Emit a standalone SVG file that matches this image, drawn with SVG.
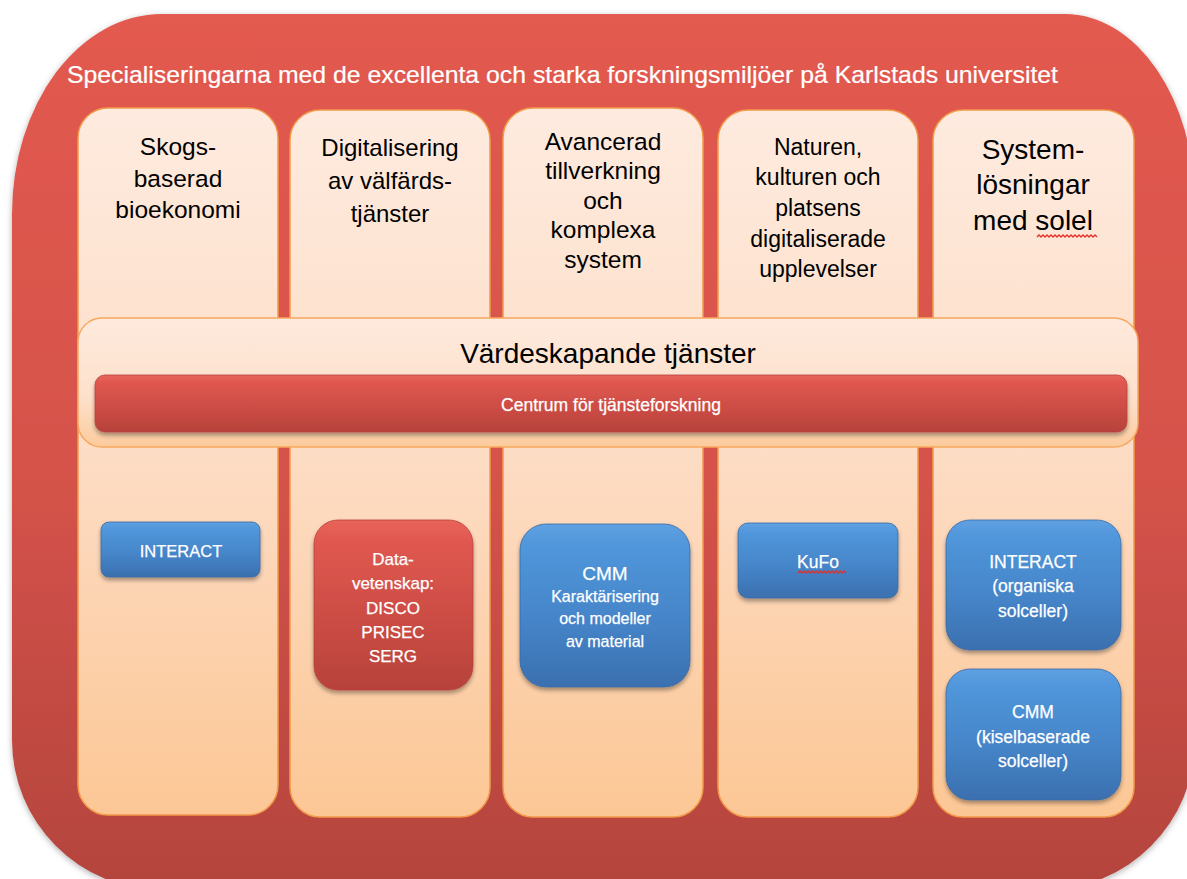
<svg xmlns="http://www.w3.org/2000/svg" width="1187" height="879" viewBox="0 0 1187 879">
<defs>
<linearGradient id="gOuter" x1="0" y1="0" x2="0" y2="1">
<stop offset="0" stop-color="#E35A4F"/>
<stop offset="0.55" stop-color="#D4524A"/>
<stop offset="1" stop-color="#B3443D"/>
</linearGradient>
<linearGradient id="gCol" x1="0" y1="0" x2="0" y2="1">
<stop offset="0" stop-color="#FEEBDF"/>
<stop offset="0.5" stop-color="#FDDCC4"/>
<stop offset="1" stop-color="#FCC795"/>
</linearGradient>
<linearGradient id="gBand" x1="0" y1="0" x2="0" y2="1">
<stop offset="0" stop-color="#FEEADD"/>
<stop offset="0.6" stop-color="#FDE1CC"/>
<stop offset="1" stop-color="#FCCB9D"/>
</linearGradient>
<linearGradient id="gRed" x1="0" y1="0" x2="0" y2="1">
<stop offset="0" stop-color="#E8645A"/>
<stop offset="0.12" stop-color="#E05850"/>
<stop offset="0.6" stop-color="#CB4C44"/>
<stop offset="1" stop-color="#B6423B"/>
</linearGradient>
<linearGradient id="gBlue" x1="0" y1="0" x2="0" y2="1">
<stop offset="0" stop-color="#5FA1E2"/>
<stop offset="0.12" stop-color="#5197DB"/>
<stop offset="0.6" stop-color="#4584C8"/>
<stop offset="1" stop-color="#3B70AF"/>
</linearGradient>
<filter id="sh" x="-10%" y="-10%" width="120%" height="140%">
<feDropShadow dx="0" dy="3" stdDeviation="2" flood-color="#000" flood-opacity="0.35"/>
</filter>
<filter id="shBig" x="-5%" y="-5%" width="110%" height="110%">
<feDropShadow dx="0" dy="2" stdDeviation="3" flood-color="#000" flood-opacity="0.3"/>
</filter>
</defs>
<style>
.col{fill:url(#gCol);stroke:#F29A48;stroke-width:1.5}
.band{fill:url(#gBand);stroke:#F6A85E;stroke-width:1.5}
.red{fill:url(#gRed);stroke:#B9433C;stroke-width:0.8}
.blue{fill:url(#gBlue);stroke:#3A69A3;stroke-width:0.8}
text{font-family:"Liberation Sans",Arial,sans-serif}
.h{fill:#000;text-anchor:middle}
.w{fill:#fff;text-anchor:middle;stroke:#fff;stroke-width:0.25}
.sq{fill:none;stroke:#E0302A;stroke-width:1.3}
</style>

<g id="outer">
<path d="M 162 14 H 1065 A 130 190 0 0 1 1195 204 V 740 A 150 150 0 0 1 1045 890 H 162 A 150 150 0 0 1 12 740 V 214 A 150 200 0 0 1 162 14 Z" fill="url(#gOuter)" filter="url(#shBig)"/>
<text x="67" y="83" font-size="24" fill="#fff" stroke="#fff" stroke-width="0.2" textLength="991" lengthAdjust="spacingAndGlyphs">Specialiseringarna med de excellenta och starka forskningsmiljöer på Karlstads universitet</text>
</g>

<g id="col1">
<rect class="col" x="78" y="108" width="200" height="707" rx="30"/>
<text class="h" font-size="24.5"><tspan x="178" y="155">Skogs-</tspan><tspan x="178" y="187">baserad</tspan><tspan x="178" y="218">bioekonomi</tspan></text>
</g>
<g id="col2">
<rect class="col" x="290" y="110" width="200" height="707" rx="30"/>
<text class="h" font-size="24"><tspan x="390" y="156">Digitalisering</tspan><tspan x="390" y="189">av välfärds-</tspan><tspan x="390" y="222">tjänster</tspan></text>
</g>
<g id="col3">
<rect class="col" x="503" y="108" width="200" height="709" rx="30"/>
<text class="h" font-size="24.5"><tspan x="603" y="150">Avancerad</tspan><tspan x="603" y="179">tillverkning</tspan><tspan x="603" y="209">och</tspan><tspan x="603" y="238">komplexa</tspan><tspan x="603" y="268">system</tspan></text>
</g>
<g id="col4">
<rect class="col" x="718" y="110" width="200" height="707" rx="30"/>
<text class="h" font-size="23"><tspan x="818" y="155">Naturen,</tspan><tspan x="818" y="185">kulturen och</tspan><tspan x="818" y="216">platsens</tspan><tspan x="818" y="247">digitaliserade</tspan><tspan x="818" y="277">upplevelser</tspan></text>
</g>
<g id="col5">
<rect class="col" x="933" y="110" width="201" height="707" rx="30"/>
<text class="h" font-size="28"><tspan x="1033" y="159">System-</tspan><tspan x="1033" y="194">lösningar</tspan><tspan x="1033" y="230">med solel</tspan></text>
<path class="sq" d="M1037 237 l2 -2 l2 2 l2 -2 l2 2 l2 -2 l2 2 l2 -2 l2 2 l2 -2 l2 2 l2 -2 l2 2 l2 -2 l2 2 l2 -2 l2 2 l2 -2 l2 2 l2 -2 l2 2 l2 -2 l2 2 l2 -2 l2 2 l2 -2 l2 2 l2 -2 l2 2 l2 -2 l2 2"/>
</g>

<g id="band">
<rect class="band" x="78" y="318" width="1060" height="129" rx="24"/>
<text class="h" x="608" y="363" font-size="28">Värdeskapande tjänster</text>
</g>
<g id="centrum">
<rect class="red" x="95" y="375" width="1032" height="57" rx="10" filter="url(#sh)"/>
<text class="w" x="611" y="411" font-size="17.5">Centrum för tjänsteforskning</text>
</g>

<g id="interact1">
<rect class="blue" x="101" y="522" width="159" height="55" rx="8" filter="url(#sh)"/>
<text class="w" x="181" y="557" font-size="16.5">INTERACT</text>
</g>
<g id="datavetenskap">
<rect class="red" x="314" y="520" width="159" height="170" rx="24" filter="url(#sh)"/>
<text class="w" font-size="17"><tspan x="393" y="565">Data-</tspan><tspan x="393" y="589">vetenskap:</tspan><tspan x="393" y="614">DISCO</tspan><tspan x="393" y="638">PRISEC</tspan><tspan x="393" y="662">SERG</tspan></text>
</g>
<g id="cmm1">
<rect class="blue" x="520" y="524" width="170" height="163" rx="26" filter="url(#sh)"/>
<text class="w" x="605" y="580" font-size="19">CMM</text>
<text class="w" font-size="16"><tspan x="605" y="602">Karaktärisering</tspan><tspan x="605" y="624">och modeller</tspan><tspan x="605" y="647">av material</tspan></text>
</g>
<g id="kufo">
<rect class="blue" x="738" y="523" width="160" height="75" rx="10" filter="url(#sh)"/>
<text class="w" x="818" y="568" font-size="17.5">KuFo</text>
<path class="sq" d="M798 573 l2 -2 l2 2 l2 -2 l2 2 l2 -2 l2 2 l2 -2 l2 2 l2 -2 l2 2 l2 -2 l2 2 l2 -2 l2 2 l2 -2 l2 2 l2 -2 l2 2 l2 -2 l2 2 l2 -2 l2 2 l2 -2 l2 2"/>
</g>
<g id="interact2">
<rect class="blue" x="946" y="520" width="175" height="130" rx="24" filter="url(#sh)"/>
<text class="w" font-size="17.5"><tspan x="1033" y="568">INTERACT</tspan><tspan x="1033" y="592">(organiska</tspan><tspan x="1033" y="617">solceller)</tspan></text>
</g>
<g id="cmm2">
<rect class="blue" x="946" y="669" width="175" height="131" rx="24" filter="url(#sh)"/>
<text class="w" font-size="17.5"><tspan x="1033" y="718">CMM</tspan><tspan x="1033" y="743">(kiselbaserade</tspan><tspan x="1033" y="767">solceller)</tspan></text>
</g>

<g id="connectors"/>
</svg>
